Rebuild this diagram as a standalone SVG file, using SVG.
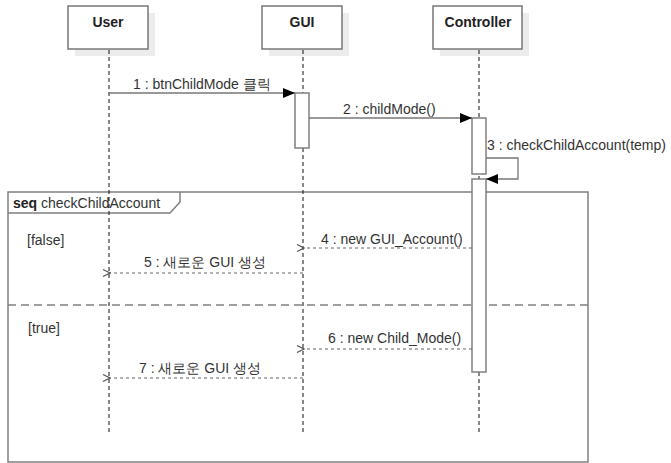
<svg xmlns="http://www.w3.org/2000/svg" width="671" height="463" viewBox="0 0 671 463">
  <style>
    .txt { font-family: "Liberation Sans", Arial, sans-serif; font-size: 14px; fill: #333; }
    .bold { font-weight: bold; fill: #222; }
    .head { fill: #fff; stroke: #777; stroke-width: 1.5; }
    .shadow { fill: #ececec; }
    .life { stroke: #111; stroke-width: 1; stroke-dasharray: 4 3; fill: none; }
    .act { fill: #fff; stroke: #808080; stroke-width: 1.5; }
    .call { stroke: #777; stroke-width: 1.3; fill: none; }
    .ret { stroke: #666; stroke-width: 1.2; stroke-dasharray: 3 3; fill: none; }
    .frame { fill: none; stroke: #808080; stroke-width: 1.5; }
  </style>
  <defs>
    <marker id="solid" viewBox="0 0 12 10" refX="12" refY="5" markerWidth="12" markerHeight="10" markerUnits="userSpaceOnUse" orient="auto">
      <path d="M0,0 L12,5 L0,10 z" fill="#000"/>
    </marker>
    <marker id="open" viewBox="0 0 10 10" refX="1" refY="5" markerWidth="10" markerHeight="10" markerUnits="userSpaceOnUse" orient="auto">
      <path d="M8,1.5 L1,5 L8,8.5" fill="none" stroke="#555" stroke-width="1.2"/>
    </marker>
  </defs>

  <rect width="671" height="463" fill="#fff"/>

  <!-- combined fragment -->
  <g id="frame-seq">
    <rect class="frame" x="8" y="192" width="580" height="270"/>
    <path class="frame" d="M8,213 L170,213 L180,202 L180,192"/>
    <text class="txt" x="13" y="208"><tspan class="bold">seq</tspan> checkChildAccount</text>
    <line x1="8" y1="305" x2="588" y2="305" stroke="#808080" stroke-width="1.5" stroke-dasharray="8 5"/>
    <text class="txt" x="27" y="245">[false]</text>
    <text class="txt" x="28" y="333">[true]</text>
  </g>

  <!-- lifelines -->
  <g id="user">
    <rect class="shadow" x="75" y="13" width="80" height="43"/>
    <rect class="head" x="68" y="6" width="80" height="43"/>
    <text class="txt bold" x="108" y="27" text-anchor="middle">User</text>
    <line class="life" x1="109" y1="50" x2="109" y2="433"/>
  </g>
  <g id="gui">
    <rect class="shadow" x="269" y="13" width="80" height="43"/>
    <rect class="head" x="262" y="6" width="80" height="43"/>
    <text class="txt bold" x="302" y="27" text-anchor="middle">GUI</text>
    <line class="life" x1="303" y1="50" x2="303" y2="433"/>
    <rect class="act" x="295" y="93" width="14" height="55"/>
  </g>
  <g id="controller">
    <rect class="shadow" x="440" y="13" width="89" height="43"/>
    <rect class="head" x="433" y="6" width="89" height="43"/>
    <text class="txt bold" x="478" y="27" text-anchor="middle">Controller</text>
    <line class="life" x1="479" y1="50" x2="479" y2="433"/>
    <rect class="act" x="472" y="118" width="14" height="56"/>
    <rect class="act" x="472" y="179" width="14" height="193"/>
  </g>

  <!-- messages -->
  <g id="connectors">
    <line class="call" x1="109" y1="93" x2="295" y2="93" marker-end="url(#solid)"/>
    <text class="txt" x="133" y="89">1 : btnChildMode 클릭</text>

    <line class="call" x1="309" y1="118" x2="472" y2="118" marker-end="url(#solid)"/>
    <text class="txt" x="343" y="114">2 : childMode()</text>

    <polyline class="call" points="486,158 518,158 518,179 486,179" marker-end="url(#solid)"/>
    <text class="txt" x="487" y="150">3 : checkChildAccount(temp)</text>

    <line class="ret" x1="472" y1="248" x2="304" y2="248" marker-end="url(#open)"/>
    <text class="txt" x="321" y="244">4 : new GUI_Account()</text>

    <line class="ret" x1="303" y1="273" x2="110" y2="273" marker-end="url(#open)"/>
    <text class="txt" x="144" y="267">5 : 새로운 GUI 생성</text>

    <line class="ret" x1="472" y1="349" x2="304" y2="349" marker-end="url(#open)"/>
    <text class="txt" x="328" y="343">6 : new Child_Mode()</text>

    <line class="ret" x1="303" y1="378" x2="110" y2="378" marker-end="url(#open)"/>
    <text class="txt" x="139" y="373">7 : 새로운 GUI 생성</text>
  </g>
</svg>
